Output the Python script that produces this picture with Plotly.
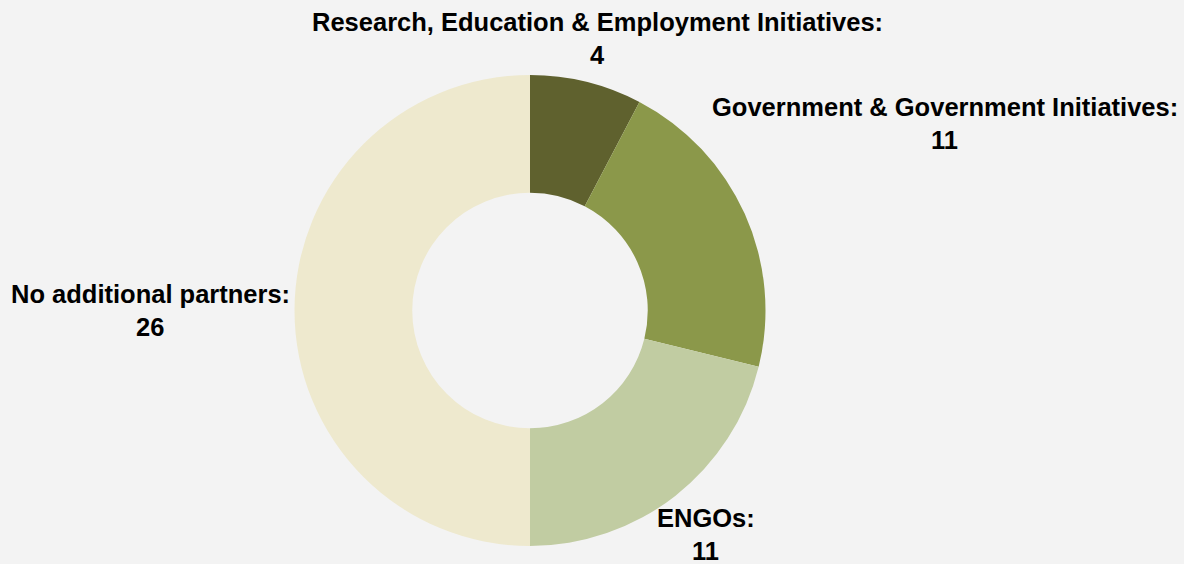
import math
import plotly.graph_objects as go

# Partner categories and counts
categories = [
    "Research, Education & Employment Initiatives",
    "Government & Government Initiatives",
    "ENGOs",
    "No additional partners",
]
counts = [4, 11, 11, 26]
colors = ["#5f612e", "#8b984a", "#c1cca2", "#eee9ce"]

W, H = 1184, 564
CX, CY, R = 530, 310.5, 235.5          # donut centre / radius in px
label_dist = [280, 455, 285, 380]      # px from centre to label block centre
LINE_GAP = 16.5                        # half spacing between label lines
FONT = dict(family="Liberation Sans, Arial, sans-serif", size=25.5, color="#000000")

fig = go.Figure(
    go.Pie(
        labels=categories,
        values=counts,
        hole=0.5,
        sort=False,
        direction="clockwise",
        rotation=0,
        marker=dict(colors=colors, line=dict(width=0)),
        textinfo="none",
        hoverinfo="label+value",
        domain=dict(
            x=[(CX - R) / W, (CX + R) / W],
            y=[1 - (CY + R) / H, 1 - (CY - R) / H],
        ),
        showlegend=False,
    )
)

# Labels sit on each slice's mid-angle ray
total = sum(counts)
cum = 0
annotations = []
for name, val, dist in zip(categories, counts, label_dist):
    mid = (cum + val / 2) / total * 2 * math.pi
    cum += val
    lx = CX + dist * math.sin(mid)
    ly = CY - dist * math.cos(mid)
    for text, dy in ((f"<b>{name}:</b>", -LINE_GAP), (f"<b>{val}</b>", LINE_GAP)):
        annotations.append(
            dict(
                x=lx / W, y=1 - (ly + dy) / H,
                xref="paper", yref="paper",
                text=text, showarrow=False,
                xanchor="center", yanchor="middle",
                font=FONT,
            )
        )

fig.update_layout(
    width=W, height=H,
    margin=dict(l=0, r=0, t=0, b=0),
    paper_bgcolor="#f3f3f3",
    plot_bgcolor="#f3f3f3",
    annotations=annotations,
)

fig.write_html("out.html")
